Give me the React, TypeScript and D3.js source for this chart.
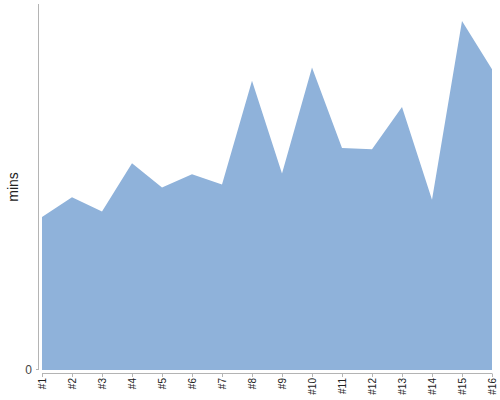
import React, { useMemo } from 'react';
import { scaleLinear, scalePoint, area } from 'd3';

const categories = ['#1', '#2', '#3', '#4', '#5', '#6', '#7', '#8', '#9', '#10', '#11', '#12', '#13', '#14', '#15', '#16'];
const minutes = [25.1, 28.3, 26.0, 33.9, 29.9, 32.1, 30.4, 47.4, 32.2, 49.6, 36.4, 36.2, 43.1, 27.9, 57.2, 49.3];
const yTicks = [0];

const App: React.FC = () => {
    const width = 500;
    const height = 400;
    const margin = { top: 4, right: 8, bottom: 30, left: 42 };
    const font = 'Liberation Sans, Arial, sans-serif';

    const { xScale, yScale, areaPath } = useMemo(() => {
        const xScale = scalePoint<string>()
            .domain(categories)
            .range([margin.left, width - margin.right]);
        const yScale = scaleLinear()
            .domain([0, 60])
            .range([height - margin.bottom, margin.top]);
        const gen = area<number>()
            .x((_, i) => xScale(categories[i]) as number)
            .y0(yScale(0))
            .y1(d => yScale(d));
        return { xScale, yScale, areaPath: gen(minutes) || '' };
    }, []);

    const axisY = height - margin.bottom + 4;

    return (
        <svg width={width} height={height} style={{ position: 'absolute', left: 0, top: 0 }} fontFamily={font}>
            <rect width={width} height={height} fill="#fff" />
            <path d={areaPath} fill="#8fb2da" />

            {/* y axis */}
            <line x1={38.5} x2={38.5} y1={margin.top} y2={yScale(0)} stroke="#b4b4b4" />
            {yTicks.map(t => (
                <g key={t}>
                    <line x1={36} x2={38.5} y1={yScale(t) - 0.5} y2={yScale(t) - 0.5} stroke="#b4b4b4" />
                    <text x={32} y={yScale(t)} dy="0.35em" textAnchor="end" fontSize={12} fill="#444">{t}</text>
                </g>
            ))}
            <text transform={`translate(18, ${(margin.top + yScale(0)) / 2}) rotate(-90)`} textAnchor="middle" fontSize={14} fill="#222">mins</text>

            {/* x axis */}
            <line x1={margin.left} x2={width - margin.right} y1={axisY - 0.5} y2={axisY - 0.5} stroke="#b4b4b4" />
            {categories.map(c => {
                const x = Math.round(xScale(c) as number) + 0.5;
                return (
                    <g key={c}>
                        <line x1={x} x2={x} y1={axisY - 0.5} y2={axisY + 3} stroke="#b4b4b4" />
                        <text transform={`translate(${x}, ${axisY + 4}) rotate(-90)`} dy="0.35em" textAnchor="end" fontSize={10} fill="#222">{c}</text>
                    </g>
                );
            })}
        </svg>
    );
};

export default App;
